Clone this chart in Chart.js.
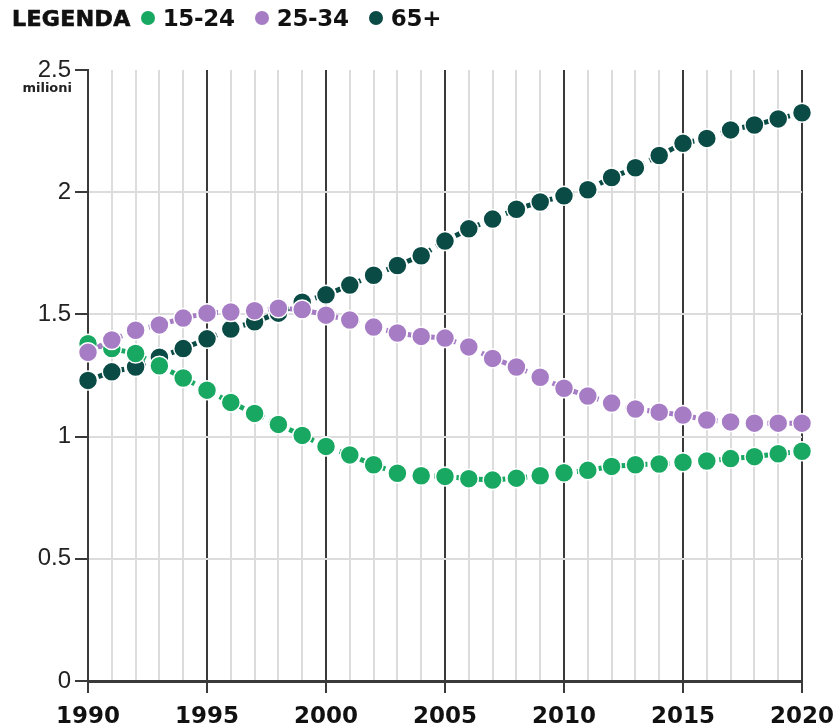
<!DOCTYPE html>
<html>
<head>
<meta charset="utf-8">
<script src="https://cdn.jsdelivr.net/npm/chart.js@4.4.1/dist/chart.umd.min.js"></script>
<style>
  html, body { margin: 0; padding: 0; background: #fff; }
  #wrap { position: relative; width: 837px; height: 727px; }
  #legend {
    position: absolute; left: 12px; top: 5px;
    font-family: "DejaVu Sans", sans-serif; font-weight: bold;
    font-size: 23px; color: #111; display: flex; align-items: center; letter-spacing: -0.3px;
  }
  #legend .ttl { font-size: 22px; margin-right: 10px; letter-spacing: 0.4px; -webkit-text-stroke: 0.7px #111; }
  #legend .dot { width: 14px; height: 14px; border-radius: 50%; display: inline-block; margin-right: 8px; }
  #legend .item { display: flex; align-items: center; margin-right: 20px; }
</style>
</head>
<body>
<div id="wrap">
  <canvas id="chart" width="837" height="727"></canvas>
  <div id="legend"></div>
</div>
<script>
// Chart data
const years = [];
for (let y = 1990; y <= 2020; y++) years.push(y);

const age15to24 = [1.38, 1.36, 1.34, 1.29, 1.24, 1.19, 1.14, 1.095, 1.05, 1.005,
  0.96, 0.925, 0.885, 0.85, 0.84, 0.837, 0.828, 0.822, 0.83, 0.84,
  0.852, 0.862, 0.878, 0.885, 0.888, 0.895, 0.9, 0.91, 0.918, 0.93, 0.94];
const age25to34 = [1.345, 1.395, 1.435, 1.457, 1.485, 1.505, 1.51, 1.515, 1.525, 1.52,
  1.497, 1.477, 1.448, 1.424, 1.41, 1.403, 1.367, 1.32, 1.285, 1.243,
  1.198, 1.166, 1.137, 1.113, 1.1, 1.088, 1.068, 1.06, 1.055, 1.055, 1.055];
const age65plus = [1.23, 1.265, 1.285, 1.325, 1.36, 1.4, 1.44, 1.47, 1.505, 1.55,
  1.58, 1.62, 1.66, 1.7, 1.74, 1.8, 1.85, 1.89, 1.93, 1.96,
  1.985, 2.01, 2.06, 2.1, 2.15, 2.2, 2.22, 2.255, 2.275, 2.3, 2.325];
const yTicks = [0, 0.5, 1, 1.5, 2, 2.5];

const series = [
  { label: '15-24', values: age15to24, color: '#18a862', order: 2 },
  { label: '25-34', values: age25to34, color: '#a67cc5', order: 1 },
  { label: '65+', values: age65plus, color: '#0b4b46', order: 3 },
];

// legend (html)
const legendEl = document.getElementById('legend');
legendEl.innerHTML = '<span class="ttl">LEGENDA</span>' + series.map(s =>
  `<span class="item"><span class="dot" style="background:${s.color}"></span>${s.label}</span>`).join('');

// small "milioni" label under the top tick
const unitLabel = {
  id: 'unitLabel',
  afterDraw(chart) {
    const ctx = chart.ctx;
    const y = chart.scales.y.getPixelForValue(2.5);
    ctx.save();
    ctx.font = 'bold 13px "DejaVu Sans", sans-serif';
    ctx.fillStyle = '#222';
    ctx.textAlign = 'right';
    ctx.textBaseline = 'top';
    ctx.fillText('milioni', 72, y + 12);
    ctx.restore();
  }
};

const ctx = document.getElementById('chart').getContext('2d');
new Chart(ctx, {
  type: 'line',
  data: {
    datasets: series.map(s => ({
      label: s.label,
      data: s.values.map((v, i) => ({ x: years[i], y: v })),
      borderColor: s.color,
      backgroundColor: s.color,
      borderWidth: 5,
      borderDash: [5, 6],
      pointRadius: 9.5,
      pointBorderColor: '#fff',
      pointBorderWidth: 1.5,
      pointBackgroundColor: s.color,
      order: s.order,
      clip: false,
    }))
  },
  options: {
    responsive: false,
    animation: false,
    layout: { padding: { top: 70, right: 35, left: 0, bottom: 0 } },
    plugins: { legend: { display: false }, tooltip: { enabled: false } },
    scales: {
      x: {
        type: 'linear',
        min: 1990,
        max: 2020,
        afterBuildTicks: axis => { axis.ticks = years.map(v => ({ value: v })); },
        afterFit: axis => { axis.height = 46; axis.paddingLeft = 0; axis.paddingRight = 0; },
        ticks: {
          autoSkip: false,
          maxRotation: 0,
          padding: 10,
          color: '#111',
          font: { family: '"DejaVu Sans", sans-serif', size: 23, weight: 'bold' },
          callback: v => (v % 5 === 0 ? String(v) : ''),
        },
        grid: {
          color: c => (c.tick && c.tick.value % 5 === 0 ? '#3a3a3a' : '#dcdcdc'),
          lineWidth: 2,
          tickColor: c => (c.tick && c.tick.value % 5 === 0 ? '#3a3a3a' : 'rgba(0,0,0,0)'),
          tickLength: 12,
        },
        border: { color: '#3a3a3a', width: 3 },
      },
      y: {
        min: 0,
        max: 2.5,
        afterBuildTicks: axis => { axis.ticks = yTicks.map(v => ({ value: v })); },
        afterFit: axis => { axis.width = 88; },
        ticks: {
          padding: 4,
          color: '#222',
          font: { family: '"Liberation Sans", Arial, sans-serif', size: 24 },
          callback: v => String(v),
        },
        grid: {
          color: c => (c.tick && c.tick.value === 0 ? '#3a3a3a' : (c.tick && c.tick.value === 2.5 ? 'rgba(0,0,0,0)' : '#dcdcdc')),
          lineWidth: 2,
          tickColor: '#3a3a3a',
          tickLength: 13,
        },
        border: { color: '#3a3a3a', width: 2 },
      }
    }
  },
  plugins: [unitLabel]
});
</script>
</body>
</html>
